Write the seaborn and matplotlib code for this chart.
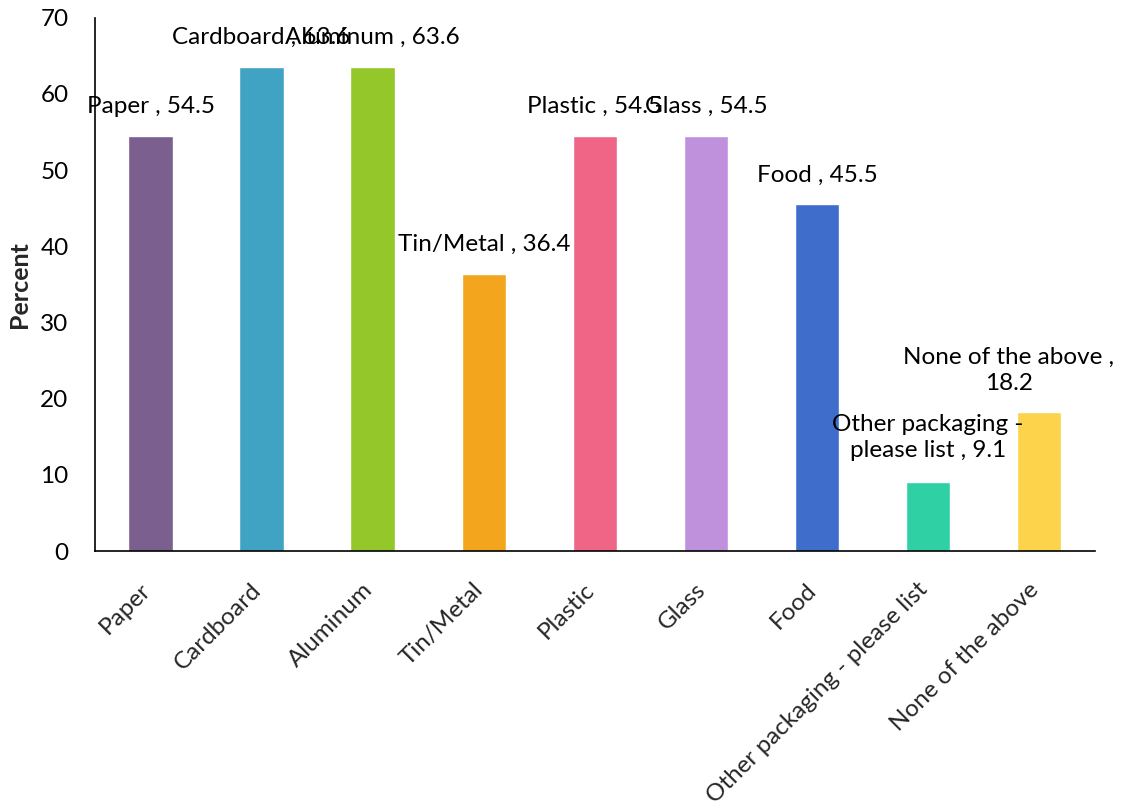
import matplotlib
matplotlib.use("Agg")
import matplotlib.pyplot as plt
import matplotlib.transforms as mtransforms
import seaborn as sns
import pandas as pd
from matplotlib.ticker import FixedLocator

categories = ["Paper", "Cardboard", "Aluminum", "Tin/Metal", "Plastic", "Glass", "Food",
              "Other packaging - please list", "None of the above"]
values = [54.5, 63.6, 63.6, 36.4, 54.5, 54.5, 45.5, 9.1, 18.2]
bar_labels = ["Paper , 54.5", "Cardboard , 63.6", "Aluminum , 63.6", "Tin/Metal , 36.4",
              "Plastic , 54.5", "Glass , 54.5", "Food , 45.5",
              "Other packaging -\nplease list , 9.1", "None of the above ,\n18.2"]
colors = ["#7B5F8F", "#41A3C3", "#94C729", "#F4A51E", "#F06586", "#BF91DC", "#3F6DCB",
          "#2ED0A4", "#FCD34A"]

sns.set_style("white")
plt.rcParams["font.family"] = ["Lato", "DejaVu Sans"]
FS = 17.5

df = pd.DataFrame({"cat": categories, "val": values})
fig = plt.figure(figsize=(11.24, 8.07), dpi=100)
ax = fig.add_axes([0.0845, 0.317, 0.8895, 0.661])
sns.barplot(data=df, x="cat", y="val", hue="cat", palette=colors, width=0.4,
            legend=False, ax=ax, saturation=1)

ax.set_ylim(0, 70)
ax.set_xlim(-0.5, len(categories) - 0.5)
ax.set_yticks(range(0, 71, 10))
ax.tick_params(axis="y", direction="in", length=7, width=1.2, labelsize=FS, pad=19, colors="black")
ax.set_xticks(range(len(categories)))
ax.set_xticklabels(categories, rotation=45, ha="right", rotation_mode="anchor", fontsize=FS)
ax.tick_params(axis="x", which="major", length=0, pad=20)
shift = mtransforms.ScaledTranslation(-8 / 72, 0, fig.dpi_scale_trans)
for lbl in ax.get_xticklabels():
    lbl.set_transform(lbl.get_transform() + shift)
ax.xaxis.set_minor_locator(FixedLocator([i - 0.5 for i in range(len(categories) + 1)]))
ax.tick_params(axis="x", which="minor", direction="in", length=7, width=1.2, color="black")
for s in ["top", "right"]:
    ax.spines[s].set_visible(False)
for s in ["left", "bottom"]:
    ax.spines[s].set_color("black")
    ax.spines[s].set_linewidth(1.2)
ax.set_xlabel("")
ax.set_ylabel("Percent", fontsize=18, fontweight="bold", labelpad=7)

offsets = [(0, 21)] * 7 + [(0, 32), (-22, 30)]
for i, (v, lab) in enumerate(zip(values, bar_labels)):
    ax.annotate(lab, (i, v), xytext=offsets[i], textcoords="offset points",
                ha="center", va="center", fontsize=FS, color="black", linespacing=1.3,
                annotation_clip=False)

fig.savefig("out.png", dpi=100)
